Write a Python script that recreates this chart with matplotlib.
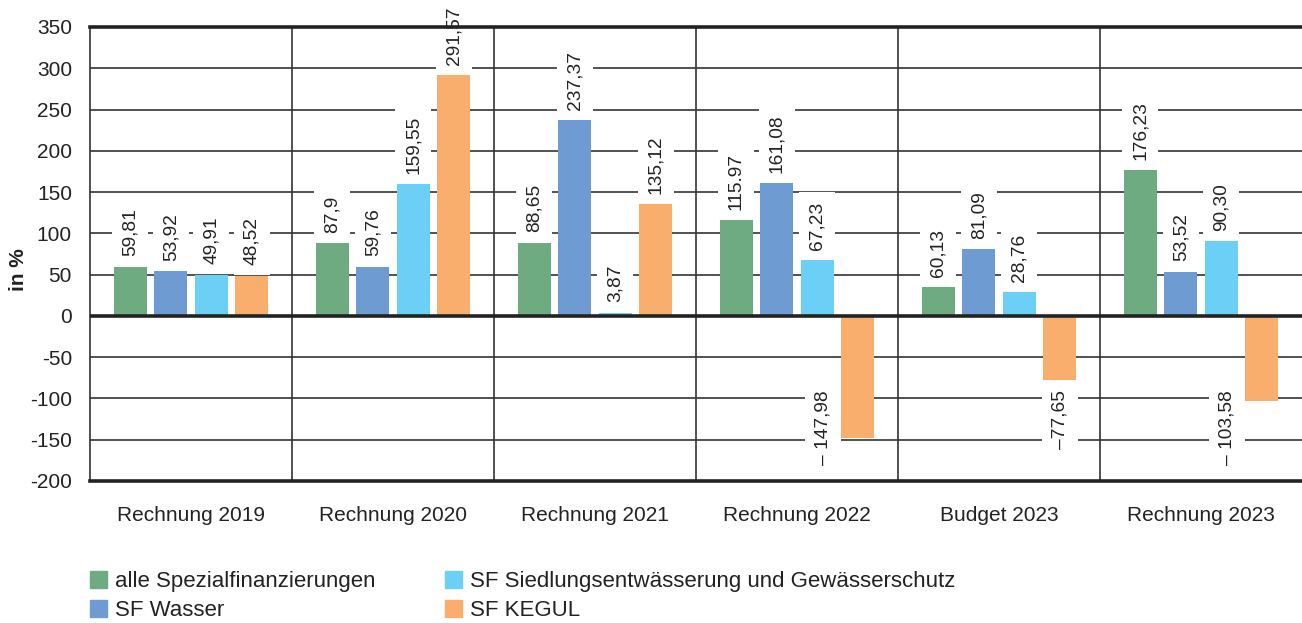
import matplotlib.pyplot as plt
import numpy as np
from matplotlib.patches import Patch

plt.rcParams['font.family'] = ['Liberation Sans', 'DejaVu Sans']
plt.rcParams['axes.unicode_minus'] = False

# Daten
kategorien = ['Rechnung 2019', 'Rechnung 2020', 'Rechnung 2021',
              'Rechnung 2022', 'Budget 2023', 'Rechnung 2023']
serien = ['alle Spezialfinanzierungen', 'SF Wasser',
          'SF Siedlungsentwässerung und Gewässerschutz', 'SF KEGUL']
alle_sf = [59.81, 87.9, 88.65, 115.97, 35.0, 176.23]
sf_wasser = [53.92, 59.76, 237.37, 161.08, 81.09, 53.52]
sf_siedlung = [49.91, 159.55, 3.87, 67.23, 28.76, 90.30]
sf_kegul = [48.52, 291.57, 135.12, -147.98, -77.65, -103.58]

lab_alle = ['59,81', '87,9', '88,65', '115.97', '60,13', '176,23']
lab_wasser = ['53,92', '59,76', '237,37', '161,08', '81,09', '53,52']
lab_siedlung = ['49,91', '159,55', '3,87', '67,23', '28,76', '90,30']
lab_kegul = ['48,52', '291,57', '135,12', '\u2013 147,98', '\u201377,65', '\u2013 103,58']

farben = ['#6fab80', '#6d9bd2', '#6bcff6', '#f9ae6e']

fig = plt.figure(figsize=(13.02, 6.23), dpi=100)
ax = fig.add_axes([90 / 1302, 1 - 481 / 623, 1 - 90 / 1302, (481 - 27) / 623])

x = np.arange(len(kategorien))
abstand = 0.2
breite = 0.163
werte = [alle_sf, sf_wasser, sf_siedlung, sf_kegul]
labels = [lab_alle, lab_wasser, lab_siedlung, lab_kegul]

for i, (w, l, f) in enumerate(zip(werte, labels, farben)):
    xs = x + (i - 1.5) * abstand
    ax.bar(xs, w, breite, color=f, zorder=3)
    for xi, wi, li in zip(xs, w, l):
        box = dict(boxstyle='square,pad=0.5', fc='white', ec='none')
        if wi >= 0:
            ax.annotate(li, (xi, wi), xytext=(0, 7.5), textcoords='offset points',
                        rotation=90, ha='center', va='bottom', fontsize=13.8,
                        color='#222222', bbox=box, zorder=2.5, annotation_clip=False)
        else:
            # lange negative Balken: Beschriftung links daneben
            if wi < -90:
                xl = xi - 0.17
            else:
                xl = xi
            ax.annotate(li, (xl, max(wi, -78)), xytext=(0, -7.5), textcoords='offset points',
                        rotation=90, ha='center', va='top', fontsize=13.8,
                        color='#222222', bbox=box, zorder=2.5, annotation_clip=False)

ax.set_ylim(-200, 350)
ax.set_xlim(-0.5, len(kategorien) - 0.5)
ax.set_yticks(np.arange(-200, 351, 50))
ax.yaxis.grid(True, color='#333333', linewidth=1.2, zorder=1)
ax.set_axisbelow(True)
for xv in x[:-1] + 0.5:
    ax.axvline(xv, color='#333333', linewidth=1.2, zorder=1)
ax.axhline(0, color='#222222', linewidth=2.6, zorder=4)
ax.axhline(350, color='#222222', linewidth=2.6, zorder=4, clip_on=False)
ax.axhline(-200, color='#222222', linewidth=2.6, zorder=4, clip_on=False)

for s in ['top', 'right', 'bottom']:
    ax.spines[s].set_visible(False)
ax.spines['left'].set_color('#333333')
ax.spines['left'].set_linewidth(1.2)

ax.set_xticks(x)
ax.set_xticklabels(kategorien, fontsize=15, color='#222222')
ax.tick_params(axis='x', length=0, pad=18)
ax.tick_params(axis='y', length=0, pad=13, labelsize=15, labelcolor='#222222')

fig.text(18 / 1302, 1 - 270 / 623, 'in %', rotation=90, fontsize=15,
         fontweight='bold', ha='center', va='center', color='#222222')

handles = [Patch(color=f, label=s) for f, s in zip(farben, serien)]
fig.legend(handles=handles, ncol=2, loc='upper left',
           bbox_to_anchor=(90 / 1302, 1 - 571 / 623), frameon=False,
           borderaxespad=0, borderpad=0,
           fontsize=16, handlelength=0.77, handleheight=0.77, handletextpad=0.36,
           columnspacing=3.1, labelspacing=0.38, labelcolor='#222222')

fig.savefig('out.png', dpi=100)
